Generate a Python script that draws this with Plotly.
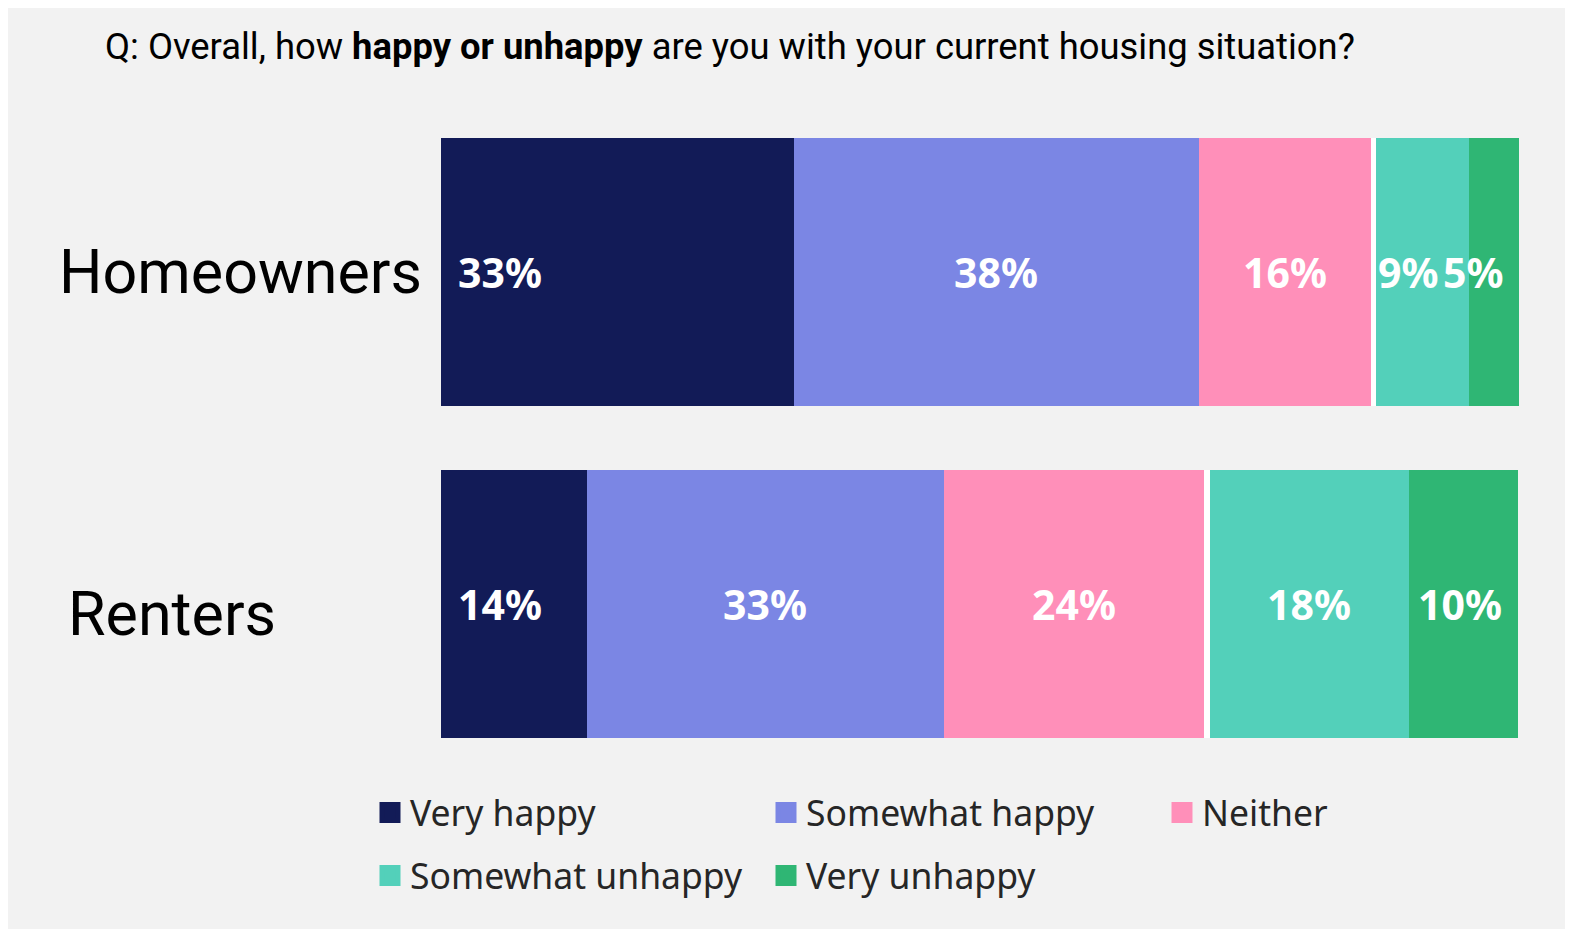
import plotly.graph_objects as go

# ---- data ----
groups = ["Homeowners", "Renters"]
series_names = ["Very happy", "Somewhat happy", "Neither", "Somewhat unhappy", "Very unhappy"]
very_happy = [32.7, 13.5]
somewhat_happy = [37.6, 33.2]
neither = [16.0, 24.1]
somewhat_unhappy = [8.7, 18.4]
very_unhappy = [4.6, 10.2]
separator = [0.4, 0.55]  # white gap between "Neither" and "Somewhat unhappy"
label_very_happy = ["33%", "14%"]
label_somewhat_happy = ["38%", "33%"]
label_neither = ["16%", "24%"]
label_somewhat_unhappy = ["9%", "18%"]
label_very_unhappy = ["5%", "10%"]

colors = ["#121b57", "#7b86e4", "#ff8fb9", "#53d0ba", "#2fb674"]

values = [very_happy, somewhat_happy, neither, somewhat_unhappy, very_unhappy]
labels = [label_very_happy, label_somewhat_happy, label_neither,
          label_somewhat_unhappy, label_very_unhappy]
# label placement style: (anchor, pixel shift) per segment
placement = [[("start", 15), ("start", 15)],
             [("middle", 0), ("middle", 0)],
             [("middle", 0), ("middle", 0)],
             [("start", 0), ("middle", 0)],
             [("middle", -21), ("middle", -3)]]

W, H = 1557, 921
ML, MR, MT, MB = 433, 46, 98, 159
PW, PH = W - ML - MR, H - MT - MB

fig = go.Figure()

order = [0, 1, 2, "sep", 3, 4]
for key in order:
    if key == "sep":
        fig.add_trace(go.Bar(y=groups, x=separator, orientation="h",
                             marker=dict(color="white", line=dict(width=0)),
                             showlegend=False, hoverinfo="skip"))
        continue
    i = key
    fig.add_trace(go.Bar(y=groups, x=values[i], orientation="h", name=series_names[i],
                         legendgroup=series_names[i], showlegend=False,
                         marker=dict(color=colors[i], line=dict(width=0))))

# legend entries (square markers) in two rows
for i, nm in enumerate(series_names):
    fig.add_trace(go.Scatter(x=[None], y=[None], mode="markers", name=nm,
                             legendgroup=nm, legend="legend" if i < 3 else "legend2",
                             marker=dict(symbol="square", size=16, color=colors[i],
                                         line=dict(width=5, color=colors[i]))))

# segment labels
annotations = []
for j, g in enumerate(groups):
    cum = 0.0
    for key in order:
        if key == "sep":
            cum += separator[j]
            continue
        i = key
        v = values[i][j]
        a, s = placement[i][j]
        if a == "start":
            x, xa = cum, "left"
        else:
            x, xa = cum + v / 2, "center"
        annotations.append(dict(x=x, y=g, xref="x", yref="y", text="<b>%s</b>" % labels[i][j],
                                xanchor=xa, xshift=s, yanchor="middle", showarrow=False,
                                font=dict(family="Noto Sans", size=41, color="white")))
        cum += v

# category labels
cat_x = [49, 58]
cat_shift = [0, 10]
for j, g in enumerate(groups):
    annotations.append(dict(x=(cat_x[j] - ML) / PW, y=g, xref="paper", yref="y",
                            text=g, xanchor="left", yanchor="middle", yshift=-cat_shift[j],
                            showarrow=False,
                            font=dict(family="Roboto", size=61, color="#000000")))

legend_style = dict(orientation="h", x=(362 - ML) / PW, xanchor="left", yanchor="middle",
                    entrywidth=351, entrywidthmode="pixels",
                    font=dict(family="Noto Sans", size=35.5, color="#262626"),
                    bgcolor="rgba(0,0,0,0)", itemclick=False, itemdoubleclick=False)

fig.update_layout(
    width=W, height=H,
    margin=dict(l=ML, r=MR, t=MT, b=MB),
    paper_bgcolor="#f2f2f2",
    plot_bgcolor="rgba(0,0,0,0)",
    barmode="stack",
    bargap=0.193,
    title=dict(text="Q: Overall, how <b>happy or unhappy</b> are you with your current housing situation?",
               x=97 / W, xanchor="left", y=1 - 38 / H, yanchor="middle",
               font=dict(family="Roboto", size=36.4, color="#000000")),
    xaxis=dict(range=[0, 100], visible=False, fixedrange=True),
    yaxis=dict(categoryorder="array", categoryarray=groups, autorange="reversed",
               showticklabels=False, showgrid=False, zeroline=False, showline=False),
    annotations=annotations,
    legend=dict(legend_style, y=(H - MB - 805) / PH),
    legend2=dict(legend_style, y=(H - MB - 868) / PH),
)

fig.write_html("out.html")
